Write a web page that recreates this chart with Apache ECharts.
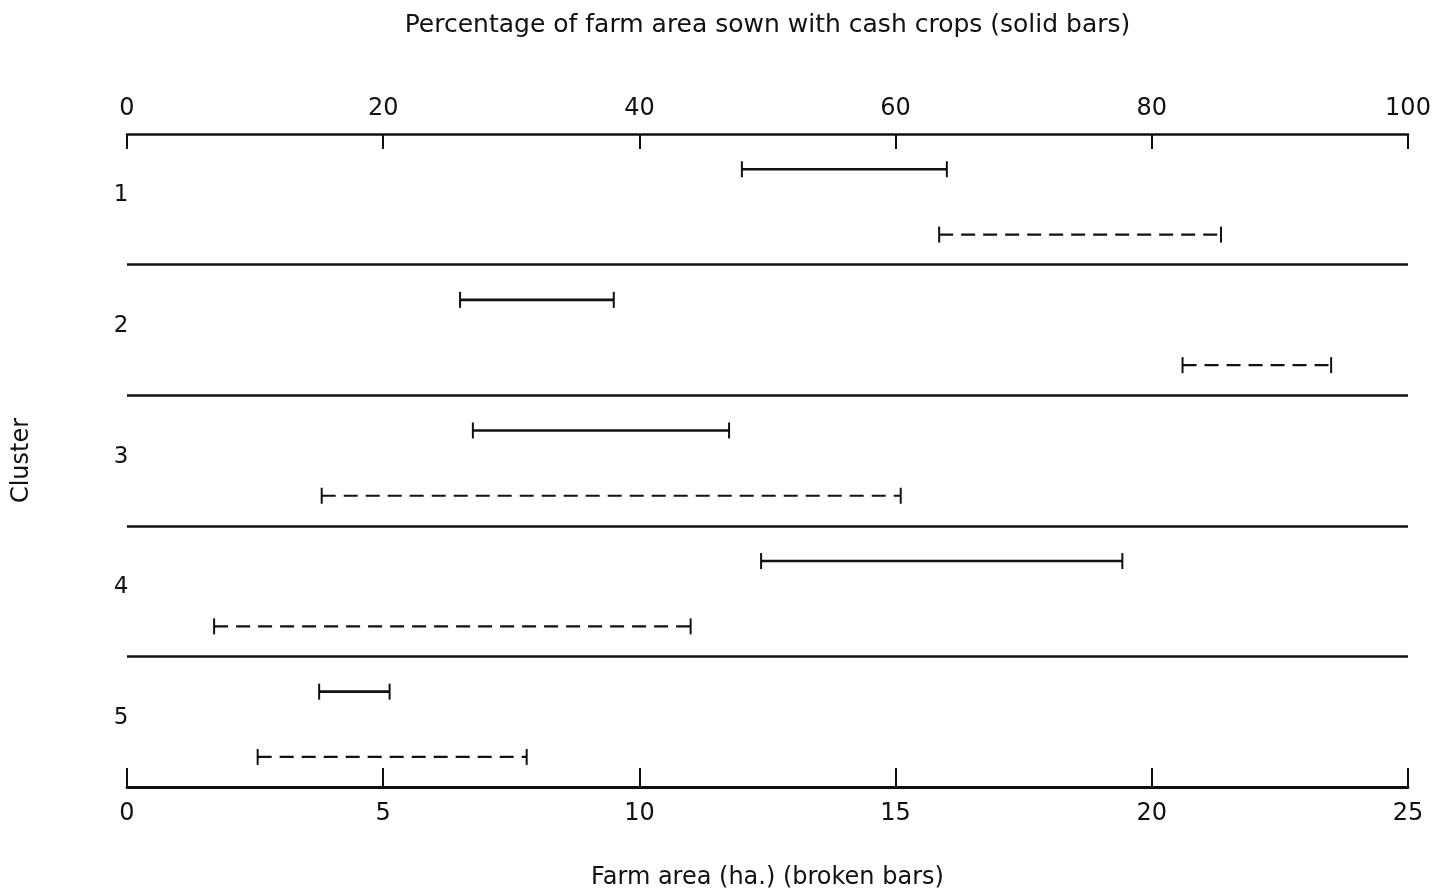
<!DOCTYPE html>
<html>
<head>
<meta charset="utf-8">
<script src="https://cdn.jsdelivr.net/npm/echarts@6/dist/echarts.min.js"></script>
<style>
  html, body { margin: 0; padding: 0; background: #ffffff; }
  #chart { width: 1435px; height: 892px; }
</style>
</head>
<body>
<div id="chart"></div>
<script>
// Cluster names
const clusters = ['1', '2', '3', '4', '5'];

// Percentage of farm area sown with cash crops (solid bars): range per cluster
const cashCropLow  = [48, 26, 27, 49.5, 15];
const cashCropHigh = [64, 38, 47, 77.7, 20.5];

// Farm area in hectares (broken bars): range per cluster
const farmAreaLow  = [15.85, 20.6, 3.8, 1.7, 2.55];
const farmAreaHigh = [21.35, 23.5, 15.1, 11.0, 7.8];

// Axis tick values
const pctTicks  = [0, 20, 40, 60, 80, 100];
const areaTicks = [0, 5, 10, 15, 20, 25];

// Layout inside each cluster band (band i spans i .. i+1 on the hidden y axis)
const SOLID_ROW = 0.27;
const LABEL_ROW = 0.47;
const BROKEN_ROW = 0.77;
const CAP = 16;
const INK = '#111111';
const FONT = 'DejaVu Sans';

function rangeBar(dashed) {
  return function (params, api) {
    const row = api.value(2);
    const a = api.coord([api.value(0), row]);
    const b = api.coord([api.value(1), row]);
    const half = CAP / 2;
    return {
      type: 'group',
      children: [
        {
          type: 'line',
          shape: { x1: a[0], y1: a[1], x2: b[0], y2: b[1] },
          style: { stroke: INK, lineWidth: dashed ? 2.2 : 2.6, lineDash: dashed ? [14, 8] : null }
        },
        {
          type: 'line',
          shape: { x1: a[0], y1: a[1] - half, x2: a[0], y2: a[1] + half },
          style: { stroke: INK, lineWidth: 2 }
        },
        {
          type: 'line',
          shape: { x1: b[0], y1: b[1] - half, x2: b[0], y2: b[1] + half },
          style: { stroke: INK, lineWidth: 2 }
        }
      ]
    };
  };
}

function clusterLabel(params, api) {
  const p = api.coord([api.value(0), api.value(1)]);
  return {
    type: 'text',
    x: p[0] - 6,
    y: p[1],
    style: {
      text: clusters[params.dataIndex],
      fill: INK,
      font: '23px "' + FONT + '"',
      align: 'center',
      verticalAlign: 'middle'
    }
  };
}

const solidData = clusters.map((c, i) => [cashCropLow[i], cashCropHigh[i], i + SOLID_ROW]);
const brokenData = clusters.map((c, i) => [farmAreaLow[i], farmAreaHigh[i], i + BROKEN_ROW]);
const labelData = clusters.map((c, i) => [pctTicks[0], i + LABEL_ROW]);
const separators = clusters.slice(1).map((c, i) => ({ yAxis: i + 1 }));

const axisText = { color: INK, fontFamily: FONT, fontSize: 24 };

const chart = echarts.init(document.getElementById('chart'), null, { renderer: 'canvas' });

chart.setOption({
  backgroundColor: '#ffffff',
  animation: false,
  grid: {
    left: 127, right: 27, top: 134, bottom: 105,
    containLabel: false,
    outerBoundsMode: 'none'
  },
  xAxis: [
    {
      type: 'value',
      position: 'top',
      min: pctTicks[0],
      max: pctTicks[pctTicks.length - 1],
      interval: pctTicks[1] - pctTicks[0],
      name: 'Percentage of farm area sown with cash crops (solid bars)',
      nameLocation: 'middle',
      nameGap: 96,
      nameTextStyle: Object.assign({}, axisText, { fontSize: 25 }),
      axisLine: { show: true, onZero: false, lineStyle: { color: INK, width: 2.5 } },
      axisTick: { show: true, inside: true, length: 15, lineStyle: { color: INK, width: 2 } },
      axisLabel: Object.assign({ margin: 13 }, axisText),
      splitLine: { show: false }
    },
    {
      type: 'value',
      position: 'bottom',
      min: areaTicks[0],
      max: areaTicks[areaTicks.length - 1],
      interval: areaTicks[1] - areaTicks[0],
      name: 'Farm area (ha.) (broken bars)',
      nameLocation: 'middle',
      nameGap: 79,
      nameTextStyle: axisText,
      axisLine: { show: true, onZero: false, lineStyle: { color: INK, width: 2.8 } },
      axisTick: { show: true, inside: true, length: 19, lineStyle: { color: INK, width: 2 } },
      axisLabel: Object.assign({ margin: 15 }, axisText),
      splitLine: { show: false }
    }
  ],
  yAxis: {
    type: 'value',
    min: 0,
    max: clusters.length,
    inverse: true,
    name: 'Cluster',
    nameLocation: 'middle',
    nameGap: 93,
    nameRotate: 90,
    nameTextStyle: axisText,
    axisLine: { show: false },
    axisTick: { show: false },
    axisLabel: { show: false },
    splitLine: { show: false }
  },
  series: [
    {
      type: 'custom',
      name: 'Cluster labels',
      xAxisIndex: 0,
      yAxisIndex: 0,
      renderItem: clusterLabel,
      data: labelData,
      encode: { x: 0, y: 1 },
      silent: true,
      markLine: {
        silent: true,
        symbol: 'none',
        label: { show: false },
        lineStyle: { color: INK, width: 2.6, type: 'solid' },
        data: separators
      }
    },
    {
      type: 'custom',
      name: 'Cash crops (%)',
      xAxisIndex: 0,
      yAxisIndex: 0,
      renderItem: rangeBar(false),
      data: solidData,
      encode: { x: [0, 1], y: 2 },
      silent: true
    },
    {
      type: 'custom',
      name: 'Farm area (ha.)',
      xAxisIndex: 1,
      yAxisIndex: 0,
      renderItem: rangeBar(true),
      data: brokenData,
      encode: { x: [0, 1], y: 2 },
      silent: true
    }
  ]
});
</script>
</body>
</html>
